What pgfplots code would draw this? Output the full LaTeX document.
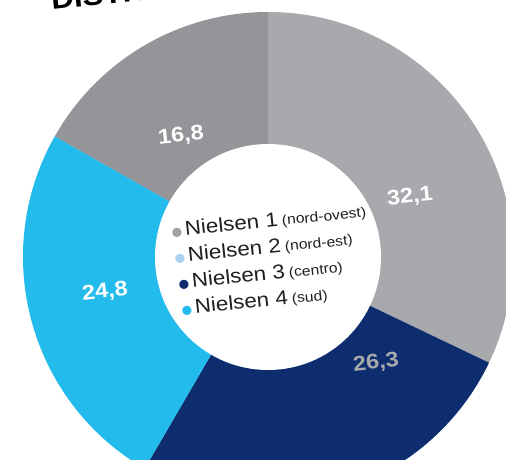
\documentclass[border=0pt]{standalone}
\usepackage{pgfplots}
\pgfplotsset{compat=1.18}
\usepackage{pgfplotstable}
\usepackage{fontspec}
\setmainfont{Liberation Sans}[FakeStretch=1.12]
\newfontfamily\symfont{DejaVu Sans}

\definecolor{greyA}{HTML}{A7A9AC}
\definecolor{greyB}{HTML}{939598}
\definecolor{navy}{HTML}{0D2D6F}
\definecolor{sky}{HTML}{22BBEC}
\definecolor{paleblue}{HTML}{A9D3F0}
\definecolor{bulletgrey}{HTML}{A0A1A4}
\definecolor{ink}{HTML}{231F20}

% shares in %, clockwise from 12 o'clock
\pgfplotstableread{
share
32.1
26.3
24.8
16.8
}\sharetable

\newcommand\lbl[1]{\fontsize{21}{21}\selectfont\bfseries #1}
\newcommand\leg[3]{{\symfont\fontsize{12}{12}\selectfont\textcolor{#1}{●}}\hspace{3pt}{\fontsize{20}{20}\selectfont #2}\hspace{4pt}{\fontsize{14}{14}\selectfont #3}}

\begin{document}
\begin{tikzpicture}
\pgfplotstablegetelem{0}{share}\of\sharetable \pgfmathsetmacro\aA{90-3.6*\pgfplotsretval}
\pgfplotstablegetelem{1}{share}\of\sharetable \pgfmathsetmacro\aB{\aA-3.6*\pgfplotsretval}
\pgfplotstablegetelem{2}{share}\of\sharetable \pgfmathsetmacro\aC{\aB-3.6*\pgfplotsretval}
\pgfplotstablegetelem{3}{share}\of\sharetable \pgfmathsetmacro\aD{\aC-3.6*\pgfplotsretval}
\begin{axis}[
  width=506pt, height=460pt, scale only axis,
  hide axis,
  xmin=-268, xmax=238, ymin=-203, ymax=257,
]
\begin{scope}[shift={(axis cs:0,0)}]
  \fill[greyA] (0pt,0pt) -- (90:245pt) arc[start angle=90, end angle=\aA, radius=245pt] -- cycle;
  \fill[navy]  (0pt,0pt) -- (\aA:245pt) arc[start angle=\aA, end angle=\aB, radius=245pt] -- cycle;
  \fill[sky]   (0pt,0pt) -- (\aB:245pt) arc[start angle=\aB, end angle=\aC, radius=245pt] -- cycle;
  \fill[greyB] (0pt,0pt) -- (\aC:245pt) arc[start angle=\aC, end angle=\aD, radius=245pt] -- cycle;
  \fill[white] (0pt,0pt) circle[radius=113pt];
\end{scope}
\node[white, rotate=6] at (axis cs:142,60) {\lbl{32,1}};
\node[greyA, rotate=6] at (axis cs:108,-106) {\lbl{26,3}};
\node[white, rotate=6] at (axis cs:-163,-35) {\lbl{24,8}};
\node[white, rotate=6] at (axis cs:-87,121) {\lbl{16,8}};

\node[ink, rotate=6, anchor=base west, inner sep=0pt] at (axis cs:-96,20) {\leg{bulletgrey}{Nielsen 1}{(nord-ovest)}};
\node[ink, rotate=6, anchor=base west, inner sep=0pt] at (axis cs:-93,-6) {\leg{paleblue}{Nielsen 2}{(nord-est)}};
\node[ink, rotate=6, anchor=base west, inner sep=0pt] at (axis cs:-89,-32) {\leg{navy}{Nielsen 3}{(centro)}};
\node[ink, rotate=6, anchor=base west, inner sep=0pt] at (axis cs:-86,-58) {\leg{sky}{Nielsen 4}{(sud)}};

\node[black, rotate=6, anchor=base west, inner sep=0pt] at (axis cs:-216,247) {\fontsize{28}{28}\selectfont\bfseries DISTRIBUZIONE};
\end{axis}
\pgfresetboundingbox
\path (current axis.south west) rectangle (current axis.north east);
\end{tikzpicture}
\end{document}
